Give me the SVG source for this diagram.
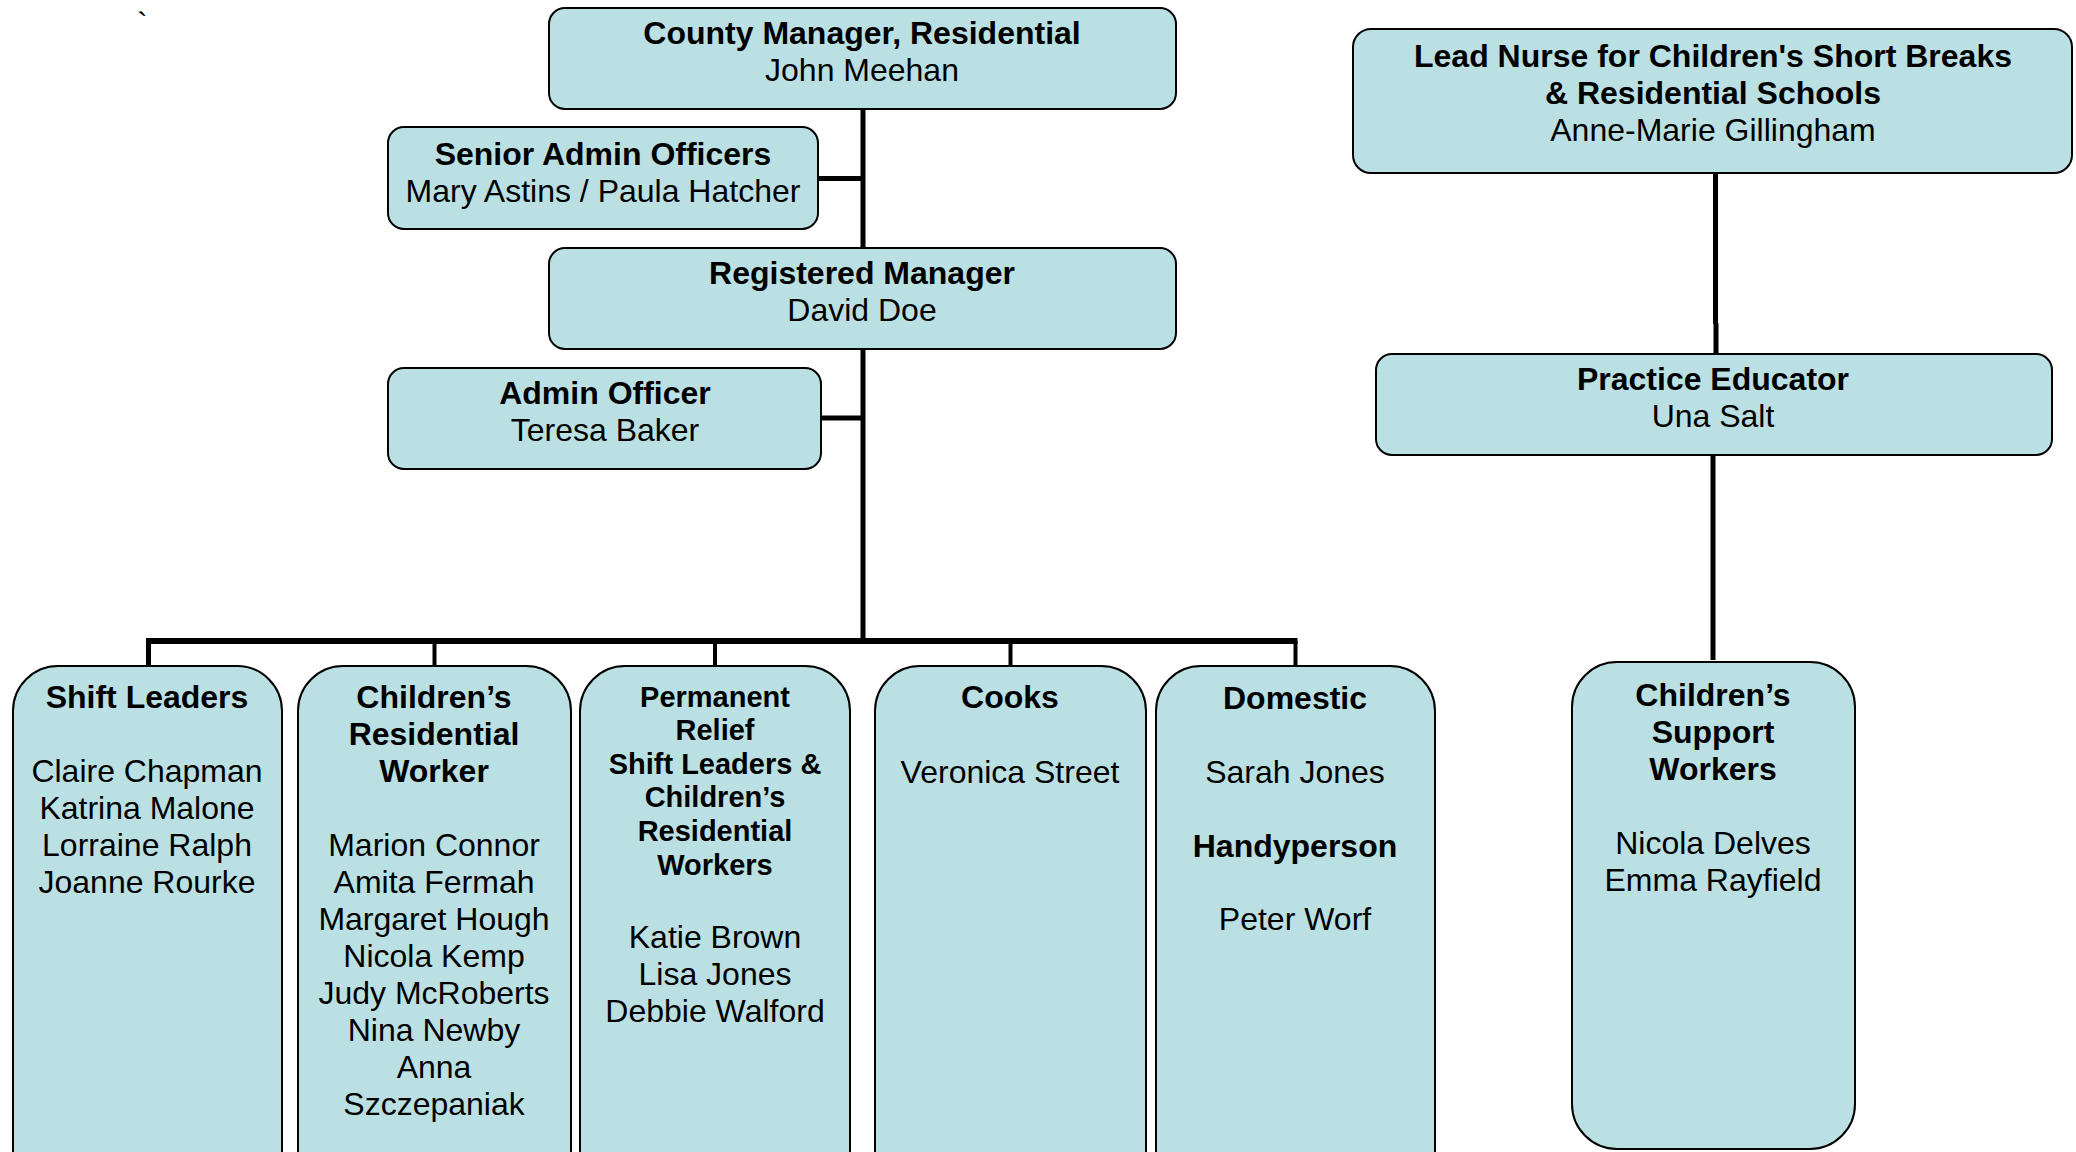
<svg xmlns="http://www.w3.org/2000/svg" width="2076" height="1152" viewBox="0 0 2076 1152">
<style>
.box{fill:#BAE0E3;stroke:#000;stroke-width:2}
text{font-family:"Liberation Sans",Arial,sans-serif;font-size:32px;text-anchor:middle;fill:#000}
.b{font-weight:bold}
.s{font-size:29px}
.ln{stroke:#000;fill:none}
</style>
<rect width="2076" height="1152" fill="#fff"/>
<text x="137" y="35" style="text-anchor:start">`</text>
<g id="connectors">
<line class="ln" x1="863" y1="108" x2="863" y2="642" stroke-width="5"/>
<line class="ln" x1="817" y1="178.5" x2="863" y2="178.5" stroke-width="5"/>
<line class="ln" x1="820" y1="418" x2="863" y2="418" stroke-width="5"/>
<line class="ln" x1="146" y1="641" x2="1297.5" y2="641" stroke-width="6"/>
<polyline class="ln" points="148.5,641 148.5,666" stroke-width="5"/>
<polyline class="ln" points="434.5,641 434.5,666" stroke-width="4"/>
<polyline class="ln" points="715,641 715,666" stroke-width="4"/>
<polyline class="ln" points="1010.5,641 1010.5,666" stroke-width="4"/>
<polyline class="ln" points="1295.5,641 1295.5,666" stroke-width="4"/>
<line class="ln" x1="1715.5" y1="173" x2="1715.5" y2="324" stroke-width="5"/>
<line class="ln" x1="1716" y1="323" x2="1716" y2="354" stroke-width="5"/>
<line class="ln" x1="1713" y1="455" x2="1713" y2="660" stroke-width="5"/>
</g>
<g id="county-manager">
<rect class="box" x="549" y="8" width="627" height="101" rx="16"/>
<text x="862" y="44" class="b">County Manager, Residential</text>
<text x="862" y="81">John Meehan</text>
</g>
<g id="senior-admin">
<rect class="box" x="388" y="127" width="430" height="102" rx="16"/>
<text x="603" y="165" class="b">Senior Admin Officers</text>
<text x="603" y="202">Mary Astins / Paula Hatcher</text>
</g>
<g id="registered-manager">
<rect class="box" x="549" y="248" width="627" height="101" rx="16"/>
<text x="862" y="284" class="b">Registered Manager</text>
<text x="862" y="321">David Doe</text>
</g>
<g id="admin-officer">
<rect class="box" x="388" y="368" width="433" height="101" rx="16"/>
<text x="605" y="404" class="b">Admin Officer</text>
<text x="605" y="441">Teresa Baker</text>
</g>
<g id="lead-nurse">
<rect class="box" x="1353" y="29" width="719" height="144" rx="18"/>
<text x="1713" y="67" class="b">Lead Nurse for Children's Short Breaks</text>
<text x="1713" y="104" class="b">&amp; Residential Schools</text>
<text x="1713" y="141">Anne-Marie Gillingham</text>
</g>
<g id="practice-educator">
<rect class="box" x="1376" y="354" width="676" height="101" rx="16"/>
<text x="1713" y="390" class="b">Practice Educator</text>
<text x="1713" y="427">Una Salt</text>
</g>
<g id="shift-leaders">
<rect class="box" x="13" y="666" width="269" height="540" rx="45"/>
<text x="147" y="708" class="b">Shift Leaders</text>
<text x="147" y="782">Claire Chapman</text>
<text x="147" y="819">Katrina Malone</text>
<text x="147" y="856">Lorraine Ralph</text>
<text x="147" y="893">Joanne Rourke</text>
</g>
<g id="childrens-residential-worker">
<rect class="box" x="298" y="666" width="273" height="540" rx="45"/>
<text x="434" y="708" class="b">Children’s</text>
<text x="434" y="745" class="b">Residential</text>
<text x="434" y="782" class="b">Worker</text>
<text x="434" y="856">Marion Connor</text>
<text x="434" y="893">Amita Fermah</text>
<text x="434" y="930">Margaret Hough</text>
<text x="434" y="967">Nicola Kemp</text>
<text x="434" y="1004">Judy McRoberts</text>
<text x="434" y="1041">Nina Newby</text>
<text x="434" y="1078">Anna</text>
<text x="434" y="1115">Szczepaniak</text>
</g>
<g id="permanent-relief">
<rect class="box" x="580" y="666" width="270" height="540" rx="45"/>
<text x="715" y="707" class="b s">Permanent</text>
<text x="715" y="740" class="b s">Relief</text>
<text x="715" y="774" class="b s">Shift Leaders &amp;</text>
<text x="715" y="807" class="b s">Children’s</text>
<text x="715" y="841" class="b s">Residential</text>
<text x="715" y="875" class="b s">Workers</text>
<text x="715" y="948">Katie Brown</text>
<text x="715" y="985">Lisa Jones</text>
<text x="715" y="1022">Debbie Walford</text>
</g>
<g id="cooks">
<rect class="box" x="875" y="666" width="271" height="540" rx="45"/>
<text x="1010" y="708" class="b">Cooks</text>
<text x="1010" y="783">Veronica Street</text>
</g>
<g id="domestic">
<rect class="box" x="1156" y="666" width="279" height="540" rx="45"/>
<text x="1295" y="709" class="b">Domestic</text>
<text x="1295" y="783">Sarah Jones</text>
<text x="1295" y="857" class="b">Handyperson</text>
<text x="1295" y="930">Peter Worf</text>
</g>
<g id="childrens-support-workers">
<rect class="box" x="1572" y="662" width="283" height="487" rx="45"/>
<text x="1713" y="706" class="b">Children’s</text>
<text x="1713" y="743" class="b">Support</text>
<text x="1713" y="780" class="b">Workers</text>
<text x="1713" y="854">Nicola Delves</text>
<text x="1713" y="891">Emma Rayfield</text>
</g>
</svg>
